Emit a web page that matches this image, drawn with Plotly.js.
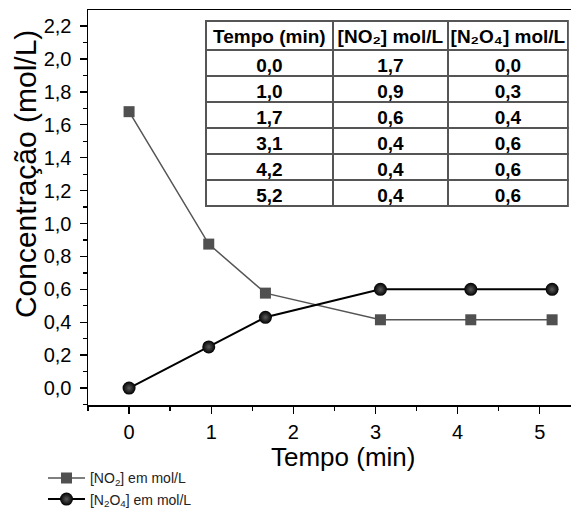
<!DOCTYPE html>
<html>
<head>
<meta charset="utf-8">
<script src="https://cdn.plot.ly/plotly-3.0.1.min.js"></script>
<style>html,body{margin:0;padding:0;background:#fff;}#chart{width:571px;height:510px;}</style>
</head>
<body>
<div id="chart"></div>
<script>
// Plotted data
const tempo = [0, 0.97, 1.66, 3.06, 4.16, 5.15];
const no2 = [1.68, 0.875, 0.577, 0.415, 0.415, 0.415];
const n2o4 = [0.0, 0.25, 0.43, 0.60, 0.60, 0.60];

// Table contents
const tableHeader = ['Tempo\u00A0(min)', '[NO\u2082]\u00A0mol/L', '[N\u2082O\u2084]\u00A0mol/L'];
const tableTempo = ['0,0', '1,0', '1,7', '3,1', '4,2', '5,2'];
const tableNO2 = ['1,7', '0,9', '0,6', '0,4', '0,4', '0,4'];
const tableN2O4 = ['0,0', '0,3', '0,4', '0,6', '0,6', '0,6'];

// Axis titles
const xTitle = 'Tempo (min)';
const yTitle = 'Concentração (mol/L)';

const F = 'Liberation Sans, Arial, sans-serif';

const traces = [
  {
    type: 'scatter', mode: 'lines+markers', x: tempo, y: no2,
    name: '[NO<sub>2</sub>] em mol/L',
    line: {color: '#555555', width: 1.5},
    marker: {symbol: 'square', size: 11, color: '#505050'}
  },
  {
    type: 'scatter', mode: 'lines+markers', x: tempo, y: n2o4,
    name: '[N<sub>2</sub>O<sub>4</sub>] em mol/L',
    line: {color: '#000000', width: 2},
    marker: {symbol: 'circle', size: 13, color: '#000000', gradient: {type: 'radial', color: '#5a5a5a'}}
  },
  {
    type: 'table',
    domain: {x: [0.244, 0.994], y: [0.50, 0.972]},
    columnwidth: [127, 115, 120],
    header: {
      values: tableHeader,
      align: 'center', height: 29,
      font: {family: F, size: 19, color: '#000', weight: 'bold'},
      line: {color: '#555', width: 1.3}, fill: {color: '#fff'}
    },
    cells: {
      values: [tableTempo, tableNO2, tableN2O4],
      align: 'center', height: 26,
      font: {family: F, size: 19, color: '#000', weight: 'bold'},
      line: {color: '#555', width: 1.3}, fill: {color: '#fff'}
    },
    showlegend: false
  }
];

const layout = {
  width: 571, height: 510,
  margin: {l: 88, r: 0, t: 10, b: 105, autoexpand: false},
  paper_bgcolor: '#fff', plot_bgcolor: '#fff',
  separators: ',.',
  font: {family: F, color: '#000'},
  showlegend: true,
  legend: {
    x: -0.0932, y: -0.145, xanchor: 'left', yanchor: 'top',
    font: {family: F, size: 14, color: '#222'},
    itemwidth: 37,
    bgcolor: 'rgba(0,0,0,0)', tracegroupgap: 0
  },
  annotations: [
    {
      xref: 'paper', yref: 'paper', x: 0.528, y: -0.1316,
      xanchor: 'center', yanchor: 'middle', showarrow: false,
      text: xTitle, font: {family: F, size: 26, color: '#000'}
    },
    {
      xref: 'paper', yref: 'paper', x: -0.128, y: 0.585,
      xanchor: 'center', yanchor: 'middle', showarrow: false, textangle: -90,
      text: yTitle, font: {family: F, size: 30, color: '#000'}
    }
  ],
  xaxis: {
    range: [-0.5, 5.38], showgrid: false, zeroline: false, automargin: false,
    showline: true, linecolor: '#000', linewidth: 1.5, mirror: true,
    ticks: 'outside', ticklen: 7, tickwidth: 1.3, tickcolor: '#000',
    tick0: 0, dtick: 1,
    minor: {ticks: 'outside', dtick: 0.5, tick0: 0, ticklen: 4, tickwidth: 1.3, tickcolor: '#000'},
    tickfont: {family: F, size: 20, color: '#000'},
    ticklabelstandoff: 1
  },
  yaxis: {
    range: [-0.103, 2.298], showgrid: false, zeroline: false, automargin: false,
    showline: true, linecolor: '#000', linewidth: 1.5,
    ticks: 'outside', ticklen: 7, tickwidth: 1.3, tickcolor: '#000',
    tick0: 0, dtick: 0.2, tickformat: '.1f',
    minor: {ticks: 'outside', dtick: 0.1, tick0: 0, ticklen: 4, tickwidth: 1.3, tickcolor: '#000'},
    tickfont: {family: F, size: 20, color: '#000'},
    ticklabelstandoff: 4
  }
};

Plotly.newPlot('chart', traces, layout, {displayModeBar: false, staticPlot: true});
</script>
</body>
</html>
